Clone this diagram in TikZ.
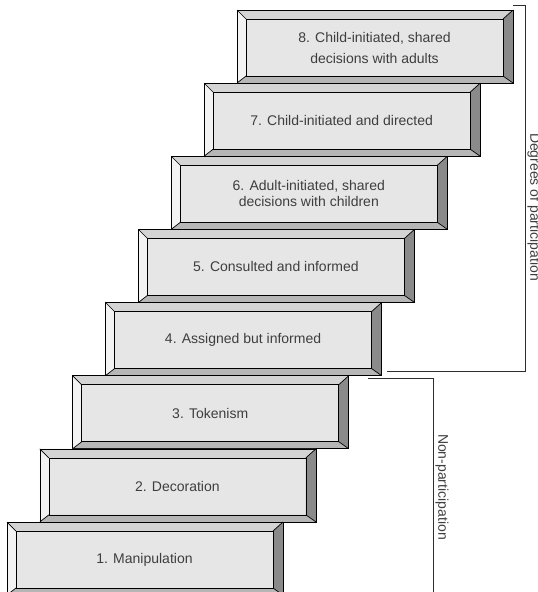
\documentclass[tikz,border=0pt]{standalone}
\usepackage{fontspec}
\setmainfont{Liberation Sans}
\definecolor{face}{RGB}{230,230,231}
\definecolor{bevtop}{RGB}{212,212,212}
\definecolor{bevleft}{RGB}{243,243,243}
\definecolor{bevright}{RGB}{138,138,138}
\definecolor{bevbot}{RGB}{182,182,182}
\definecolor{txt}{RGB}{62,62,62}
\definecolor{brk}{RGB}{45,45,45}
\tikzset{
  edge/.style={draw=black, line width=0.7pt, line join=miter},
  lbl/.style={text=txt, font=\fontsize{14}{16}\selectfont, align=center, inner sep=0pt},
  sidelbl/.style={text=txt, font=\fontsize{14}{17}\selectfont, rotate=-90, inner sep=0pt},
  brace/.style={draw=brk, line width=0.8pt}
}
\newcommand\ladderbox[3]{%
  \pgfmathsetmacro\bxL{7+(#1-1)*32.86}%
  \pgfmathsetmacro\bxT{522-(#1-1)*73.14}%
  \pgfmathsetmacro\bxR{\bxL+276}%
  \pgfmathsetmacro\bxB{\bxT+73}%
  \pgfmathsetmacro\bxiL{\bxL+9}%
  \pgfmathsetmacro\bxiT{\bxT+9}%
  \pgfmathsetmacro\bxiR{\bxR-10}%
  \pgfmathsetmacro\bxiB{\bxB-7}%
  \fill[face] (\bxiL,\bxiT) rectangle (\bxiR,\bxiB);
  \fill[bevtop] (\bxL,\bxT) -- (\bxR,\bxT) -- (\bxiR,\bxiT) -- (\bxiL,\bxiT) -- cycle;
  \fill[bevleft] (\bxL,\bxT) -- (\bxiL,\bxiT) -- (\bxiL,\bxiB) -- (\bxL,\bxB) -- cycle;
  \fill[bevright] (\bxR,\bxT) -- (\bxR,\bxB) -- (\bxiR,\bxiB) -- (\bxiR,\bxiT) -- cycle;
  \fill[bevbot] (\bxL,\bxB) -- (\bxR,\bxB) -- (\bxiR,\bxiB) -- (\bxiL,\bxiB) -- cycle;
  \draw[edge] (\bxL,\bxT) rectangle (\bxR,\bxB);
  \draw[edge] (\bxiL,\bxiT) rectangle (\bxiR,\bxiB);
  \draw[edge] (\bxL,\bxT) -- (\bxiL,\bxiT) (\bxR,\bxT) -- (\bxiR,\bxiT)
              (\bxL,\bxB) -- (\bxiL,\bxiB) (\bxR,\bxB) -- (\bxiR,\bxiB);
  \node[lbl] (#2) at ({(\bxiL+\bxiR)/2},{(\bxiT+\bxiB)/2}) {#3};
}
\begin{document}
\begin{tikzpicture}[x=1pt,y=-1pt]
\useasboundingbox (0,0) rectangle (538,592);
\clip (0,0) rectangle (538,592);
\ladderbox{8}{s8}{8. Child-initiated, shared\\[5pt]decisions with adults}
\ladderbox{7}{s7}{7. Child-initiated and directed}
\ladderbox{6}{s6}{6. Adult-initiated, shared\\decisions with children}
\ladderbox{5}{s5}{5. Consulted and informed}
\ladderbox{4}{s4}{4. Assigned but informed}
\ladderbox{3}{s3}{3. Tokenism}
\ladderbox{2}{s2}{2. Decoration}
\ladderbox{1}{s1}{1. Manipulation}
% brackets
\coordinate (dA) at (513,5);
\coordinate (dB) at (525,5);
\coordinate (dC) at (525,371);
\coordinate (dD) at (387,371);
\draw[brace] (dA) -- (dB) -- (dC) -- (dD);
\coordinate (nA) at (368,378);
\coordinate (nB) at (433,378);
\coordinate (nC) at (433,600);
\draw[brace] (nA) -- (nB) -- (nC);
\node[sidelbl] (degrees) at (534,207) {Degrees of participation};
\node[sidelbl] (nonpart) at (442,487) {Non-participation};
\end{tikzpicture}
\end{document}
